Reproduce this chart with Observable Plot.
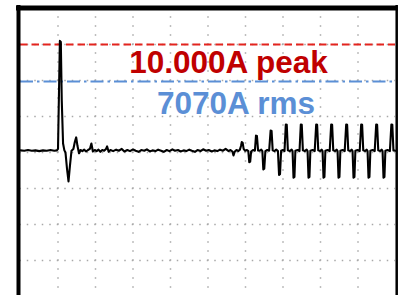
<!DOCTYPE html>
<html>
<head>
<meta charset="utf-8">
<script src="https://cdn.jsdelivr.net/npm/d3@7"></script>
<script src="https://cdn.jsdelivr.net/npm/@observablehq/plot@0.6"></script>
<style>
  html, body { margin: 0; padding: 0; background: #fff; }
  #chart svg { display: block; }
</style>
</head>
<body>
<div id="chart"></div>
<script>
// time in screen divisions (10 across), current in vertical divisions (8 tall)
const t = [
  0,0.1,0.2,0.3,0.4,0.5,0.6,0.7,0.8,0.9,0.97,
  1.0,1.025,1.05,1.075,1.1,1.135,1.17,1.2,1.24,1.28,1.32,1.36,1.41,1.45,1.485,1.52,1.56,1.6,
  1.65,1.7,1.75,1.8,1.85,1.89,1.93,1.98,2.03,2.08,2.13,2.18,2.23,2.28,2.31,2.35,2.4,
  2.47,2.55,2.62,2.7,2.77,2.85,2.92,3.0,3.07,3.15,3.22,3.3,3.37,3.45,3.52,3.6,3.67,3.75,3.82,3.9,
  3.97,4.05,4.12,4.2,4.27,4.35,4.42,4.5,4.57,4.65,4.72,4.8,4.87,4.95,5.02,5.1,5.17,5.25,5.32,5.4,5.47,5.55,
  5.6,5.65,5.68,5.71,5.76,5.81,5.85,5.88,5.9,5.925,5.95,5.99,6.04,6.075,6.1,6.125,6.15,6.2,6.25,
  6.28,6.305,6.335,6.38,6.42,6.45,6.475,6.5,6.53,6.58,6.63,
  6.67,6.695,6.725,6.77,6.82,6.865,6.895,6.92,6.95,7.0,7.04,
  7.075,7.1,7.13,7.18,7.23,7.255,7.28,7.305,7.33,7.39,7.44,
  7.475,7.5,7.53,7.58,7.63,7.655,7.68,7.705,7.73,7.79,7.845,
  7.885,7.91,7.94,7.99,8.03,8.055,8.08,8.105,8.13,8.19,8.245,
  8.285,8.31,8.34,8.39,8.43,8.455,8.48,8.505,8.53,8.59,8.645,
  8.685,8.71,8.74,8.79,8.83,8.855,8.88,8.905,8.93,8.99,9.045,
  9.085,9.11,9.14,9.19,9.23,9.255,9.28,9.305,9.33,9.39,9.445,
  9.485,9.51,9.54,9.59,9.63,9.655,9.68,9.705,9.73,9.79,9.85,
  9.89,9.915,9.945,10.0
];
const v = [
  0.06,0.05,0.07,0.05,0.06,0.04,0.06,0.05,0.07,0.05,0.06,
  0.1,1.6,3.1,3.07,1.45,0.25,0.06,0.0,-0.45,-0.8,-0.35,0.05,0.1,0.3,0.42,0.18,-0.02,0.07,
  0.04,0.08,0.03,0.07,0.1,0.25,0.03,0.07,0.04,0.08,0.02,0.07,0.05,0.1,0.17,0.02,0.07,
  0.04,0.08,0.05,0.1,0.03,0.07,0.04,0.09,0.05,0.02,0.07,0.05,0.09,0.03,0.06,0.04,0.08,0.05,0.02,0.07,
  0.04,0.09,0.05,0.07,0.03,0.06,0.04,0.08,0.05,0.02,0.07,0.04,0.09,0.05,0.07,0.03,0.06,0.04,0.08,0.05,0.1,0.04,
  0.07,0.03,-0.08,0.02,0.07,0.04,0.08,0.18,0.29,0.27,0.1,0.05,0.07,0.04,-0.27,-0.25,0.03,0.07,0.05,
  0.47,0.46,0.06,0.05,0.08,0.04,-0.47,-0.45,0.04,0.07,0.05,
  0.61,0.6,0.06,0.04,0.08,0.04,-0.62,-0.6,0.05,0.07,0.04,
  0.78,0.77,0.06,0.04,0.08,0.04,-0.7,-0.68,0.05,0.07,0.04,
  0.78,0.77,0.06,0.04,0.08,0.04,-0.7,-0.68,0.05,0.07,0.04,
  0.78,0.77,0.06,0.04,0.08,0.04,-0.7,-0.68,0.05,0.07,0.04,
  0.78,0.77,0.06,0.04,0.08,0.04,-0.7,-0.68,0.05,0.07,0.04,
  0.78,0.77,0.06,0.04,0.08,0.04,-0.7,-0.68,0.05,0.07,0.04,
  0.78,0.77,0.06,0.04,0.08,0.04,-0.7,-0.68,0.05,0.07,0.04,
  0.78,0.77,0.06,0.04,0.08,0.04,-0.7,-0.68,0.05,0.07,0.04,
  0.78,0.77,0.06,0.05
];
const levels = [3.0, 1.97];               // peak (10,000 A) and rms (7070 A) reference lines, in divisions
const labels = ["10.000A peak", "7070A rms"];
const xDivisions = [1,2,3,4,5,6,7,8,9];
const yDivisions = [3,2,1,0,-1,-2,-3];

const trace = t.map((d, i) => ({t: d, v: v[i]}));

const chart = Plot.plot({
  width: 400,
  height: 295,
  marginLeft: 20,
  marginRight: 5,
  marginTop: 8,
  marginBottom: 0,
  x: {domain: [0, 10], axis: null},
  y: {domain: [-3.97, 4], axis: null},
  style: {background: "#fff", overflow: "visible"},
  marks: [
    Plot.ruleX(xDivisions, {stroke: "#a8a8a8", strokeWidth: 1.5, strokeDasharray: "1.5,7.5", strokeDashoffset: 0.75}),
    Plot.ruleY(yDivisions, {stroke: "#a8a8a8", strokeWidth: 1.5, strokeDasharray: "1.5,6", strokeDashoffset: 0.75}),
    Plot.ruleY([levels[0]], {stroke: "#e3241e", strokeWidth: 2, strokeDasharray: "7.5,4"}),
    Plot.ruleY([levels[1]], {stroke: "#5b8fd6", strokeWidth: 2, strokeDasharray: "13,4,2.5,4"}),
    Plot.line(trace, {x: "t", y: "v", stroke: "#000", strokeWidth: 2.1}),
    Plot.text([labels[0]], {x: 5.547, y: levels[0] - 0.8, text: d => d, lineAnchor: "bottom", textAnchor: "middle",
      fill: "#c00000", fontSize: 31.5, fontWeight: "bold", fontFamily: "Liberation Sans, Arial, sans-serif"}),
    Plot.text([labels[1]], {x: 5.747, y: levels[1] - 0.89, text: d => d, lineAnchor: "bottom", textAnchor: "middle",
      fill: "#5b8fd6", fontSize: 31.5, fontWeight: "bold", fontFamily: "Liberation Sans, Arial, sans-serif"}),
    // oscilloscope frame
    Plot.ruleX([0], {stroke: "#000", strokeWidth: 4, dx: -2, insetTop: -3}),
    Plot.ruleX([10], {stroke: "#000", strokeWidth: 2.5, dx: 1.2, insetTop: -3}),
    Plot.ruleY([4], {stroke: "#000", strokeWidth: 5, dy: -0.5, insetLeft: -4, insetRight: -2.5})
  ]
});
document.getElementById("chart").appendChild(chart);
</script>
</body>
</html>
